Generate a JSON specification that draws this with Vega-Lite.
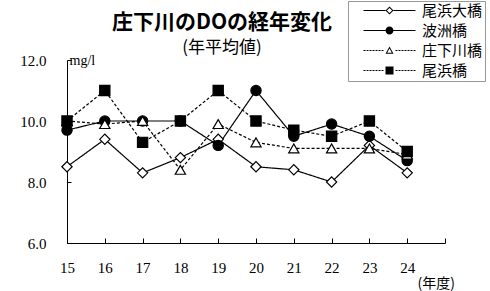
{
  "$schema": "https://vega.github.io/schema/vega-lite/v6.json",
  "width": 378,
  "height": 183,
  "autosize": {"type": "none"},
  "padding": {"left": 67, "top": 60, "right": 45, "bottom": 48},
  "background": "white",
  "title": {
    "text": "庄下川のDOの経年変化",
    "subtitle": "(年平均値)",
    "anchor": "middle",
    "frame": "group",
    "dx": -34,
    "offset": -55,
    "font": "Noto Sans CJK JP",
    "fontSize": 21,
    "fontWeight": "bold",
    "color": "black",
    "subtitleFont": "Noto Sans CJK JP",
    "subtitleFontSize": 17,
    "subtitleColor": "black",
    "subtitlePadding": 7
  },
  "config": {
    "view": {"stroke": null},
    "axis": {"grid": false, "domainColor": "black", "tickColor": "black", "labelColor": "black", "titleColor": "black"}
  },
  "data": {
    "values": [
      {"year": 15, "series": "尾浜大橋", "value": 8.5},
      {"year": 16, "series": "尾浜大橋", "value": 9.4},
      {"year": 17, "series": "尾浜大橋", "value": 8.3},
      {"year": 18, "series": "尾浜大橋", "value": 8.8},
      {"year": 19, "series": "尾浜大橋", "value": 9.4},
      {"year": 20, "series": "尾浜大橋", "value": 8.5},
      {"year": 21, "series": "尾浜大橋", "value": 8.4},
      {"year": 22, "series": "尾浜大橋", "value": 8.0},
      {"year": 23, "series": "尾浜大橋", "value": 9.2},
      {"year": 24, "series": "尾浜大橋", "value": 8.3},
      {"year": 15, "series": "波洲橋", "value": 9.7},
      {"year": 16, "series": "波洲橋", "value": 10.0},
      {"year": 17, "series": "波洲橋", "value": 10.0},
      {"year": 18, "series": "波洲橋", "value": 10.0},
      {"year": 19, "series": "波洲橋", "value": 9.2},
      {"year": 20, "series": "波洲橋", "value": 11.0},
      {"year": 21, "series": "波洲橋", "value": 9.5},
      {"year": 22, "series": "波洲橋", "value": 9.9},
      {"year": 23, "series": "波洲橋", "value": 9.5},
      {"year": 24, "series": "波洲橋", "value": 8.7},
      {"year": 15, "series": "庄下川橋", "value": 10.0},
      {"year": 16, "series": "庄下川橋", "value": 9.9},
      {"year": 17, "series": "庄下川橋", "value": 10.0},
      {"year": 18, "series": "庄下川橋", "value": 8.4},
      {"year": 19, "series": "庄下川橋", "value": 9.9},
      {"year": 20, "series": "庄下川橋", "value": 9.3},
      {"year": 21, "series": "庄下川橋", "value": 9.1},
      {"year": 22, "series": "庄下川橋", "value": 9.1},
      {"year": 23, "series": "庄下川橋", "value": 9.1},
      {"year": 24, "series": "庄下川橋", "value": 8.9},
      {"year": 15, "series": "尾浜橋", "value": 10.0},
      {"year": 16, "series": "尾浜橋", "value": 11.0},
      {"year": 17, "series": "尾浜橋", "value": 9.3},
      {"year": 18, "series": "尾浜橋", "value": 10.0},
      {"year": 19, "series": "尾浜橋", "value": 11.0},
      {"year": 20, "series": "尾浜橋", "value": 10.0},
      {"year": 21, "series": "尾浜橋", "value": 9.7},
      {"year": 22, "series": "尾浜橋", "value": 9.5},
      {"year": 23, "series": "尾浜橋", "value": 10.0},
      {"year": 24, "series": "尾浜橋", "value": 9.0}
    ]
  },
  "encoding": {
    "x": {
      "field": "year", "type": "quantitative",
      "scale": {"domain": [15, 25], "nice": false, "zero": false},
      "axis": {
        "values": [15, 16, 17, 18, 19, 20, 21, 22, 23, 24, 25],
        "labelExpr": "datum.value == 25 ? '' : datum.label",
        "labelFont": "Liberation Serif", "labelFontSize": 15,
        "labelPadding": 22, "tickSize": -5, "labelFlush": false,
        "title": "(年度)", "titleFont": "Noto Sans CJK JP", "titleFontSize": 14, "titleFontWeight": "normal",
        "titleAnchor": null, "titleX": 350, "titleY": 40, "titleAlign": "left", "titleBaseline": "middle"
      }
    },
    "y": {
      "field": "value", "type": "quantitative",
      "scale": {"domain": [6, 12], "nice": false, "zero": false},
      "axis": {
        "values": [6, 8, 10, 12], "format": ".1f",
        "labelFont": "Liberation Serif", "labelFontSize": 15,
        "labelPadding": 25, "tickSize": -4,
        "title": "mg/l", "titleFont": "Liberation Serif", "titleFontSize": 14, "titleFontWeight": "normal",
        "titleAngle": 0, "titleX": 2, "titleY": 0, "titleAlign": "left", "titleBaseline": "middle"
      }
    }
  },
  "layer": [
    {
      "mark": {"type": "line", "color": "black", "strokeWidth": 1.2},
      "encoding": {
        "detail": {"field": "series", "type": "nominal"},
        "strokeDash": {
          "field": "series", "type": "nominal",
          "scale": {"domain": ["尾浜大橋", "波洲橋", "庄下川橋", "尾浜橋"], "range": [[1, 0], [1, 0], [3, 2], [3, 2]]},
          "legend": null
        }
      }
    },
    {
      "mark": {"type": "point", "stroke": "black", "strokeWidth": 1.2, "opacity": 1, "fillOpacity": 1, "size": 105},
      "encoding": {
        "shape": {
          "field": "series", "type": "nominal",
          "scale": {"domain": ["尾浜大橋", "波洲橋", "庄下川橋", "尾浜橋"], "range": ["diamond", "circle", "triangle-up", "square"]},
          "legend": null
        },
        "fill": {
          "field": "series", "type": "nominal",
          "scale": {"domain": ["尾浜大橋", "波洲橋", "庄下川橋", "尾浜橋"], "range": ["white", "black", "white", "black"]},
          "legend": null
        }
      }
    },
    {
      "mark": {"type": "point", "strokeWidth": 0, "opacity": 1, "fillOpacity": 1, "size": 0},
      "encoding": {
        "shape": {
          "field": "series", "type": "nominal",
          "scale": {"domain": ["尾浜大橋", "波洲橋", "庄下川橋", "尾浜橋"], "range": [
            "M-6.5,-0.125H-1V0.125H-6.5ZM1,-0.125H6.5V0.125H1ZM-1,0L0,-1L1,0L0,1ZM-0.65,0L0,0.65L0.65,0L0,-0.65Z",
            "M-6.5,-0.125H-1V0.125H-6.5ZM1,-0.125H6.5V0.125H1ZM-1,0A1,1,0,1,1,1,0A1,1,0,1,1,-1,0Z",
            "M-6.5,-0.125H-6V0.125H-6.5ZM-5.75,-0.125H-5.25V0.125H-5.75ZM-5,-0.125H-4.5V0.125H-5ZM-4.25,-0.125H-3.75V0.125H-4.25ZM-3.5,-0.125H-3V0.125H-3.5ZM-2.75,-0.125H-2.25V0.125H-2.75ZM-2,-0.125H-1.5V0.125H-2ZM1.5,-0.125H2V0.125H1.5ZM2.25,-0.125H2.75V0.125H2.25ZM3,-0.125H3.5V0.125H3ZM3.75,-0.125H4.25V0.125H3.75ZM4.5,-0.125H5V0.125H4.5ZM5.25,-0.125H5.75V0.125H5.25ZM6,-0.125H6.5V0.125H6ZM0,-1L1,0.8L-1,0.8ZM0,-0.485L-0.575,0.55L0.575,0.55Z",
            "M-6.5,-0.125H-6V0.125H-6.5ZM-5.75,-0.125H-5.25V0.125H-5.75ZM-5,-0.125H-4.5V0.125H-5ZM-4.25,-0.125H-3.75V0.125H-4.25ZM-3.5,-0.125H-3V0.125H-3.5ZM-2.75,-0.125H-2.25V0.125H-2.75ZM-2,-0.125H-1.5V0.125H-2ZM1.5,-0.125H2V0.125H1.5ZM2.25,-0.125H2.75V0.125H2.25ZM3,-0.125H3.5V0.125H3ZM3.75,-0.125H4.25V0.125H3.75ZM4.5,-0.125H5V0.125H4.5ZM5.25,-0.125H5.75V0.125H5.25ZM6,-0.125H6.5V0.125H6ZM-1,-1H1V1H-1Z"
          ]},
          "legend": {
            "title": null, "orient": "none", "legendX": 281, "legendY": -59,
            "strokeColor": "#999", "fillColor": "white", "padding": 2,
            "rowPadding": 4, "symbolSize": 64, "symbolOffset": 32, "labelOffset": 25,
            "symbolStrokeWidth": 0,
            "labelFont": "Noto Sans CJK JP", "labelFontSize": 15, "labelColor": "black"
          }
        },
        "fill": {
          "field": "series", "type": "nominal",
          "scale": {"domain": ["尾浜大橋", "波洲橋", "庄下川橋", "尾浜橋"], "range": ["black", "black", "black", "black"]}
        }
      }
    }
  ],
  "resolve": {"scale": {"shape": "independent", "fill": "independent", "strokeDash": "independent"}}
}
